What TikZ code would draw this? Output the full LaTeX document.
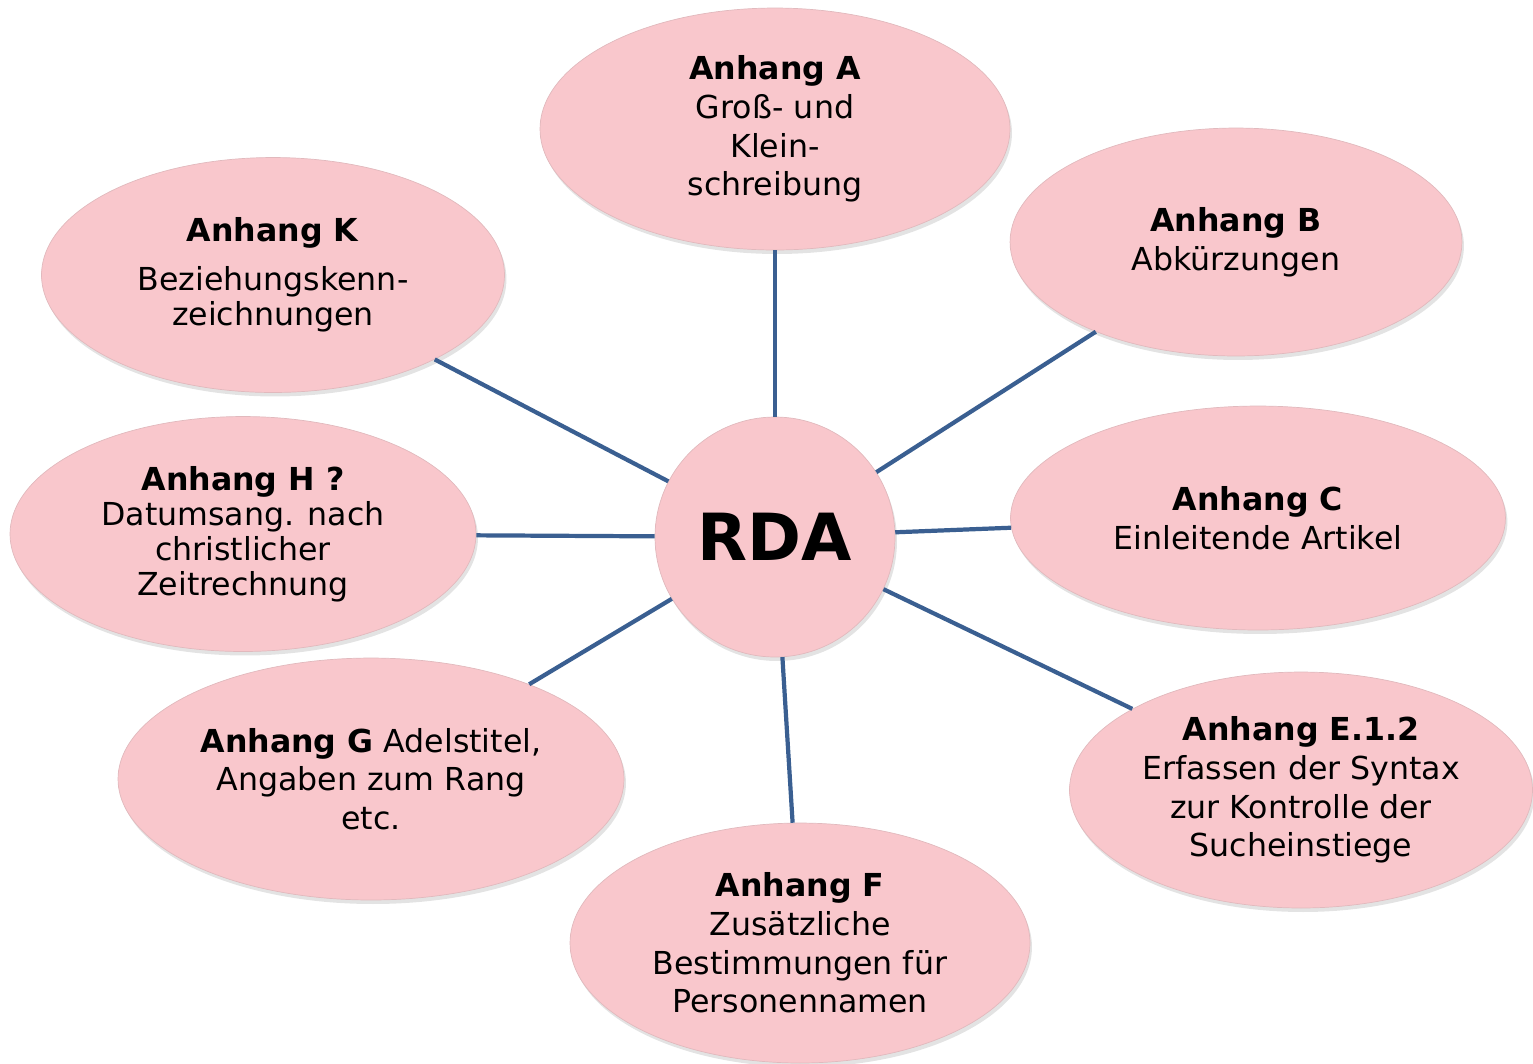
\documentclass[tikz,border=0pt]{standalone}
\usepackage{fontspec}
\setmainfont{DejaVu Sans}
\usetikzlibrary{shapes.geometric, shadows}
\definecolor{rdapink}{RGB}{249,199,204}
\definecolor{rdablue}{RGB}{58,95,145}
\colorlet{rdapinkdark}{rdapink!85!gray}
\colorlet{rdapinklight}{rdapink!35!white}
\pgfdeclareverticalshading{pinkshade}{100bp}{color(0bp)=(rdapinkdark); color(14bp)=(rdapink); color(86bp)=(rdapink); color(97bp)=(rdapinklight); color(100bp)=(rdapink)}
\tikzstyle{anhang} = [ellipse, shading=pinkshade, draw=rdapink!80!gray, line width=0.4pt, drop shadow={opacity=0.22, shadow xshift=0.04cm, shadow yshift=-0.08cm}, inner sep=0pt, align=center, font=\fontsize{18}{22}\selectfont]
\tikzstyle{hub} = [circle, shading=pinkshade, draw=rdapink!80!gray, line width=0.4pt, drop shadow={opacity=0.22, shadow xshift=0.04cm, shadow yshift=-0.08cm}, inner sep=0pt, minimum size=4.8cm, font=\fontsize{37}{40}\selectfont\bfseries]
\tikzstyle{link} = [draw=rdablue, line width=2.4pt]

\begin{document}
\begin{tikzpicture}[x=0.02cm, y=-0.02cm]
\useasboundingbox (0,0) rectangle (1533,1063);

\node at (775,537) (rda) [hub] {RDA};

\node at (775,129) (anhA) [anhang, minimum width=9.4cm, minimum height=4.84cm] {\textbf{Anhang A}\\Groß- und\\Klein-\\schreibung};
\node at (1236,242) (anhB) [anhang, minimum width=9.04cm, minimum height=4.56cm] {\textbf{Anhang B}\\Abkürzungen};
\node at (1258,518) (anhC) [anhang, minimum width=9.9cm, minimum height=4.48cm] {\textbf{Anhang C}\\Einleitende Artikel};
\node at (1301,790) (anhE) [anhang, minimum width=9.26cm, minimum height=4.72cm] {\textbf{Anhang E.1.2}\\Erfassen der Syntax\\zur Kontrolle der\\Sucheinstiege};
\node at (800,943) (anhF) [anhang, minimum width=9.2cm, minimum height=4.8cm] {\textbf{Anhang F}\\Zusätzliche\\Bestimmungen für\\Personennamen};
\node at (371,779) (anhG) [anhang, minimum width=10.12cm, minimum height=4.84cm] {\textbf{Anhang G} Adelstitel,\\Angaben zum Rang\\etc.};
\node at (243,534) (anhH) [anhang, minimum width=9.32cm, minimum height=4.7cm, font=\fontsize{18}{20}\selectfont] {\textbf{Anhang H ?}\\Datumsang. nach\\christlicher\\Zeitrechnung};
\node at (273,275) (anhK) [anhang, minimum width=9.26cm, minimum height=4.7cm, font=\fontsize{18}{20}\selectfont] {\textbf{Anhang K}\\[8pt]Beziehungskenn-\\zeichnungen};

\draw [link] (rda) -- (anhA);
\draw [link] (rda) -- (anhB);
\draw [link] (rda) -- (anhC);
\draw [link] (rda) -- (anhE);
\draw [link] (rda) -- (anhF);
\draw [link] (rda) -- (anhG);
\draw [link] (rda) -- (anhH);
\draw [link] (rda) -- (anhK);

\end{tikzpicture}
\end{document}
